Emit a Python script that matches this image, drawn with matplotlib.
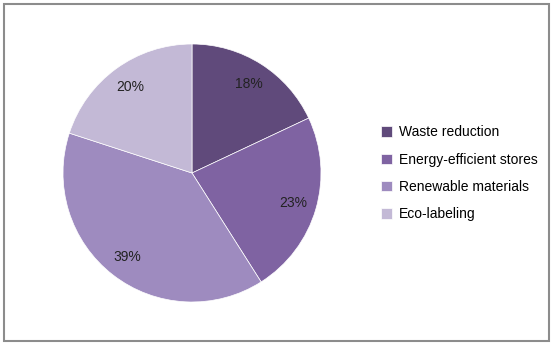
import matplotlib.pyplot as plt
from matplotlib.patches import Rectangle

plt.rcParams["font.family"] = ["Liberation Sans", "DejaVu Sans"]

labels = ["Waste reduction", "Energy-efficient stores", "Renewable materials", "Eco-labeling"]
shares = [18, 23, 39, 20]
colors = ["#604a7b", "#7f63a2", "#9e8bbf", "#c3b9d6"]

fig = plt.figure(figsize=(5.51, 3.43), dpi=100)

# grey frame round the chart area
fig.patches.append(Rectangle((4 / 551, 2 / 343), 545 / 551, 337 / 343,
                             transform=fig.transFigure, fill=False,
                             edgecolor="#8c8c8c", linewidth=1.5))

ax = fig.add_axes([(192 - 129) / 551, (170 - 129) / 343, 258 / 551, 258 / 343])
wedges, texts, autotexts = ax.pie(
    shares, colors=colors, startangle=90, counterclock=False,
    autopct="%d%%", pctdistance=0.82,
    wedgeprops=dict(edgecolor="white", linewidth=0.5),
    textprops=dict(fontsize=10, color="#222222"),
)
ax.set_xlim(-1, 1)
ax.set_ylim(-1, 1)
ax.set_aspect("equal")

fig.legend(wedges, labels, loc="upper left", bbox_to_anchor=(368 / 551, 1 - 113 / 343),
           frameon=False, fontsize=10, handlelength=0.8, handleheight=0.8,
           handletextpad=0.5, labelspacing=0.95)

fig.savefig("out.png", dpi=100)
